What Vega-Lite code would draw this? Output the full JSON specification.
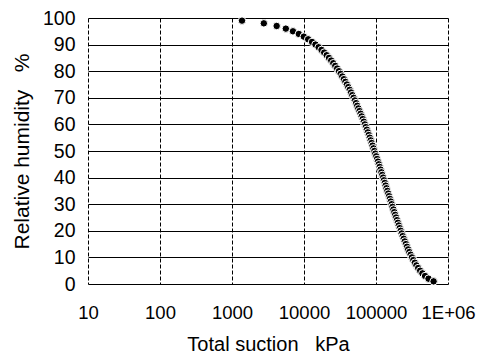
{
  "$schema": "https://vega.github.io/schema/vega-lite/v6.json",
  "autosize": "none",
  "width": 360,
  "height": 266,
  "padding": {"left": 88, "top": 18, "right": 30, "bottom": 70},
  "background": "white",
  "config": {"view": {"stroke": null}, "font": "Liberation Sans"},
  "data": {"values": [
    {"rh": 99, "s": 1377}, {"rh": 98, "s": 2768}, {"rh": 97, "s": 4173}, {"rh": 96, "s": 5593}, {"rh": 95, "s": 7027},
    {"rh": 94, "s": 8477}, {"rh": 93, "s": 9942}, {"rh": 92, "s": 11423}, {"rh": 91, "s": 12921}, {"rh": 90, "s": 14434},
    {"rh": 89, "s": 15965}, {"rh": 88, "s": 17513}, {"rh": 87, "s": 19079}, {"rh": 86, "s": 20663}, {"rh": 85, "s": 22265},
    {"rh": 84, "s": 23886}, {"rh": 83, "s": 25527}, {"rh": 82, "s": 27188}, {"rh": 81, "s": 28869}, {"rh": 80, "s": 30571},
    {"rh": 79, "s": 32294}, {"rh": 78, "s": 34039}, {"rh": 77, "s": 35807}, {"rh": 76, "s": 37598}, {"rh": 75, "s": 39412},
    {"rh": 74, "s": 41251}, {"rh": 73, "s": 43115}, {"rh": 72, "s": 45005}, {"rh": 71, "s": 46921}, {"rh": 70, "s": 48864},
    {"rh": 69, "s": 50836}, {"rh": 68, "s": 52836}, {"rh": 67, "s": 54865}, {"rh": 66, "s": 56926}, {"rh": 65, "s": 59017},
    {"rh": 64, "s": 61141}, {"rh": 63, "s": 63299}, {"rh": 62, "s": 65491}, {"rh": 61, "s": 67719}, {"rh": 60, "s": 69983},
    {"rh": 59, "s": 72286}, {"rh": 58, "s": 74628}, {"rh": 57, "s": 77010}, {"rh": 56, "s": 79435}, {"rh": 55, "s": 81904},
    {"rh": 54, "s": 84417}, {"rh": 53, "s": 86978}, {"rh": 52, "s": 89588}, {"rh": 51, "s": 92248}, {"rh": 50, "s": 94961},
    {"rh": 49, "s": 97729}, {"rh": 48, "s": 100554}, {"rh": 47, "s": 103438}, {"rh": 46, "s": 106384}, {"rh": 45, "s": 109396},
    {"rh": 44, "s": 112474}, {"rh": 43, "s": 115624}, {"rh": 42, "s": 118848}, {"rh": 41, "s": 122149}, {"rh": 40, "s": 125532},
    {"rh": 39, "s": 129000}, {"rh": 38, "s": 132559}, {"rh": 37, "s": 136213}, {"rh": 36, "s": 139966}, {"rh": 35, "s": 143826},
    {"rh": 34, "s": 147797}, {"rh": 33, "s": 151887}, {"rh": 32, "s": 156102}, {"rh": 31, "s": 160452}, {"rh": 30, "s": 164944},
    {"rh": 29, "s": 169589}, {"rh": 28, "s": 174396}, {"rh": 27, "s": 179379}, {"rh": 26, "s": 184549}, {"rh": 25, "s": 189922},
    {"rh": 24, "s": 195515}, {"rh": 23, "s": 201346}, {"rh": 22, "s": 207436}, {"rh": 21, "s": 213809}, {"rh": 20, "s": 220493},
    {"rh": 19, "s": 227520}, {"rh": 18, "s": 234927}, {"rh": 17, "s": 242758}, {"rh": 16, "s": 251064}, {"rh": 15, "s": 259905},
    {"rh": 14, "s": 269357}, {"rh": 13, "s": 279510}, {"rh": 12, "s": 290476}, {"rh": 11, "s": 302397}, {"rh": 10, "s": 315454},
    {"rh": 9, "s": 329889}, {"rh": 8, "s": 346025}, {"rh": 7, "s": 364319}, {"rh": 6, "s": 385437}, {"rh": 5, "s": 410415},
    {"rh": 4, "s": 440986}, {"rh": 3, "s": 480398}, {"rh": 2, "s": 535947}, {"rh": 1, "s": 630908}
  ]},
  "mark": {"type": "point", "shape": "circle", "filled": true, "fill": "black", "stroke": "white", "strokeWidth": 1, "size": 56, "opacity": 1},
  "encoding": {
    "x": {
      "field": "s", "type": "quantitative",
      "scale": {"type": "log", "domain": [10, 1000000], "nice": false},
      "axis": {
        "values": [10, 100, 1000, 10000, 100000, 1000000],
        "labelExpr": "datum.value >= 1000000 ? '1E+06' : format(datum.value, 'd')",
        "labelOverlap": false, "labelBound": false, "labelFlush": false,
        "grid": true, "gridColor": "black", "gridOpacity": 1, "gridWidth": 1, "gridDash": [4, 2],
        "domain": false, "ticks": false,
        "labelFont": "Liberation Sans", "labelFontSize": 18.5, "labelColor": "black", "labelPadding": 19,
        "title": "Total suction\u00a0\u00a0\u00a0kPa", "titleFont": "Liberation Sans", "titleFontSize": 20, "titleFontWeight": "normal",
        "titleColor": "black", "titlePadding": 13
      }
    },
    "y": {
      "field": "rh", "type": "quantitative",
      "scale": {"domain": [0, 100], "nice": false},
      "axis": {
        "values": [0, 10, 20, 30, 40, 50, 60, 70, 80, 90, 100],
        "labelOverlap": false,
        "grid": true, "gridColor": "black", "gridOpacity": 1, "gridWidth": 1.2,
        "domain": false, "ticks": false,
        "labelFont": "Liberation Sans", "labelFontSize": 19.5, "labelColor": "black", "labelPadding": 13,
        "title": "Relative humidity\u00a0\u00a0\u00a0%", "titleFont": "Liberation Sans", "titleFontSize": 21, "titleFontWeight": "normal",
        "titleColor": "black", "titlePadding": 10
      }
    }
  }
}
